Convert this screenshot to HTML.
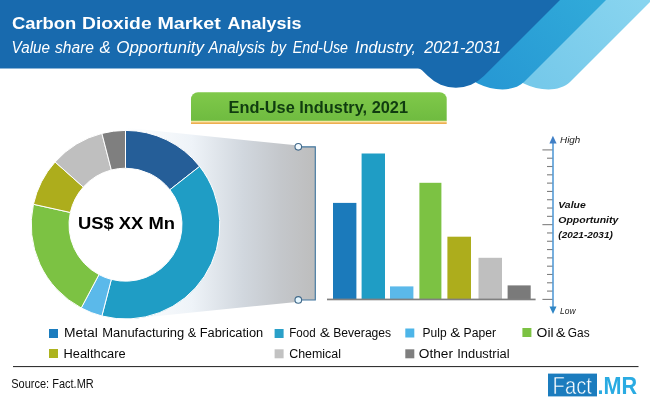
<!DOCTYPE html>
<html><head><meta charset="utf-8"><title>Carbon Dioxide Market Analysis</title>
<style>
html,body{margin:0;padding:0;background:#fff;}
body{width:650px;height:402px;overflow:hidden;position:relative;font-family:"Liberation Sans",sans-serif;}
svg{position:absolute;left:0;top:0;display:block;}
text{font-family:"Liberation Sans",sans-serif;}
</style></head><body>
<svg width="650" height="402" viewBox="0 0 650 402">
<defs>
<linearGradient id="fun" x1="0" y1="0" x2="1" y2="0">
<stop offset="0" stop-color="#ffffff"/><stop offset="0.35" stop-color="#eef3f8"/><stop offset="0.62" stop-color="#d1d7de"/><stop offset="0.82" stop-color="#c4c7cb"/><stop offset="1" stop-color="#bdbdbd"/>
</linearGradient>
<linearGradient id="grn" x1="0" y1="0" x2="0" y2="1">
<stop offset="0" stop-color="#80c94a"/><stop offset="1" stop-color="#6fbb40"/>
</linearGradient>
<linearGradient id="med" gradientUnits="userSpaceOnUse" x1="590" y1="0" x2="500" y2="90">
<stop offset="0" stop-color="#30a9d9"/><stop offset="1" stop-color="#2799d4"/>
</linearGradient>
<linearGradient id="lgt" gradientUnits="userSpaceOnUse" x1="640" y1="0" x2="548" y2="90">
<stop offset="0" stop-color="#88d4ef"/><stop offset="1" stop-color="#76c9ea"/>
</linearGradient>
</defs>
<!-- header -->
<path d="M505,0 H652 L570,82 C565,87 556.5,89.4 548.5,89.4 A55,55 0 0 1 505,68.1 Z" fill="url(#lgt)"/>
<path d="M459,0 H606 L524,82 C519,87 510.5,89.4 502.5,89.4 A55,55 0 0 1 459,68.1 Z" fill="url(#med)"/>
<path d="M0,0 H560 L483.9,76.1 A39.6,39.6 0 0 1 427.9,76.1 L422,70.2 Q420.4,68.5 418,68.5 H0 Z" fill="#186aae"/>
<text y="28.7" font-size="17.4" font-weight="bold" fill="#fff"><tspan x="11.9" textLength="64.4" lengthAdjust="spacingAndGlyphs">Carbon</tspan> <tspan x="82" textLength="69.6" lengthAdjust="spacingAndGlyphs">Dioxide</tspan> <tspan x="157.4" textLength="63.4" lengthAdjust="spacingAndGlyphs">Market</tspan> <tspan x="227.5" textLength="73.9" lengthAdjust="spacingAndGlyphs">Analysis</tspan></text>
<text y="53.1" font-size="15.8" font-style="italic" fill="#fff"><tspan x="11.6" textLength="38.4" lengthAdjust="spacingAndGlyphs">Value</tspan> <tspan x="55" textLength="39.0" lengthAdjust="spacingAndGlyphs">share</tspan> <tspan x="99.4" textLength="11.2" lengthAdjust="spacingAndGlyphs">&amp;</tspan> <tspan x="116.2" textLength="87.8" lengthAdjust="spacingAndGlyphs">Opportunity</tspan> <tspan x="208.6" textLength="56.5" lengthAdjust="spacingAndGlyphs">Analysis</tspan> <tspan x="270.6" textLength="15.4" lengthAdjust="spacingAndGlyphs">by</tspan> <tspan x="292.8" textLength="55.2" lengthAdjust="spacingAndGlyphs">End-Use</tspan> <tspan x="355" textLength="61.0" lengthAdjust="spacingAndGlyphs">Industry,</tspan> <tspan x="424.2" textLength="77.0" lengthAdjust="spacingAndGlyphs">2021-2031</tspan></text>
<!-- green pill -->
<rect x="191" y="120" width="255.7" height="2.6" fill="#f6e7a4"/>
<rect x="191" y="122.4" width="255.7" height="1.5" fill="#eca63c"/>
<path d="M191,120.8 V99.3 A7,7 0 0 1 198,92.3 H439.7 A7,7 0 0 1 446.7,99.3 V120.8 Z" fill="url(#grn)"/>
<text x="228.5" y="112.6" font-size="16.6" font-weight="bold" fill="#103c10" textLength="179.5" lengthAdjust="spacingAndGlyphs">End-Use Industry, 2021</text>
<!-- funnel -->
<polygon points="125.5,127.7 296,145.3 298,146.8 315.3,146.8 315.3,300 298,300 296.5,302 125.5,319.3" fill="url(#fun)"/>
<path d="M298,146.8 H315.3 V300 H298" fill="none" stroke="#42779f" stroke-width="1.15"/>
<!-- donut -->
<circle cx="125.5" cy="224.7" r="57.5" fill="#fff"/>
<path d="M125.50,130.40 A94.3,94.3 0 0 1 199.61,166.38 L169.90,189.76 A56.5,56.5 0 0 0 125.50,168.20 Z" fill="#255e98" stroke="#fff" stroke-width="1" stroke-linejoin="round"/>
<path d="M199.61,166.38 A94.3,94.3 0 0 1 101.89,316.00 L111.35,279.40 A56.5,56.5 0 0 0 169.90,189.76 Z" fill="#1f9dc5" stroke="#fff" stroke-width="1" stroke-linejoin="round"/>
<path d="M101.89,316.00 A94.3,94.3 0 0 1 81.23,307.96 L98.97,274.59 A56.5,56.5 0 0 0 111.35,279.40 Z" fill="#5bb9ea" stroke="#fff" stroke-width="1" stroke-linejoin="round"/>
<path d="M81.23,307.96 A94.3,94.3 0 0 1 33.44,204.29 L70.34,212.47 A56.5,56.5 0 0 0 98.97,274.59 Z" fill="#7cc243" stroke="#fff" stroke-width="1" stroke-linejoin="round"/>
<path d="M33.44,204.29 A94.3,94.3 0 0 1 55.09,161.97 L83.31,187.11 A56.5,56.5 0 0 0 70.34,212.47 Z" fill="#adad1c" stroke="#fff" stroke-width="1" stroke-linejoin="round"/>
<path d="M55.09,161.97 A94.3,94.3 0 0 1 101.89,133.40 L111.35,170.00 A56.5,56.5 0 0 0 83.31,187.11 Z" fill="#bfbfbf" stroke="#fff" stroke-width="1" stroke-linejoin="round"/>
<path d="M101.89,133.40 A94.3,94.3 0 0 1 125.50,130.40 L125.50,168.20 A56.5,56.5 0 0 0 111.35,170.00 Z" fill="#7f7f7f" stroke="#fff" stroke-width="1" stroke-linejoin="round"/>
<circle cx="298.3" cy="146.8" r="3.3" fill="#f4fbff" stroke="#41698a" stroke-width="1.1"/>
<circle cx="298.3" cy="299.9" r="3.3" fill="#e6f7ff" stroke="#41698a" stroke-width="1.1"/>
<text x="78" y="229.4" font-size="17.3" font-weight="bold" fill="#000" textLength="97" lengthAdjust="spacingAndGlyphs">US$ XX Mn</text>
<!-- bars -->
<rect x="333" y="202.9" width="23.4" height="96.5" fill="#1b7abb"/>
<rect x="361.6" y="153.5" width="23.4" height="145.9" fill="#1f9dc5"/>
<rect x="390" y="286.4" width="23.4" height="13.0" fill="#5bb9ea"/>
<rect x="419.4" y="182.8" width="22.0" height="116.6" fill="#7cc243"/>
<rect x="447.4" y="236.7" width="23.6" height="62.7" fill="#adad1c"/>
<rect x="478.5" y="257.8" width="23.5" height="41.6" fill="#bfbfbf"/>
<rect x="507.6" y="285.4" width="23.1" height="14.0" fill="#7a7a7a"/>
<rect x="327" y="298.6" width="208.6" height="1.7" fill="#808080"/>
<!-- axis -->
<g stroke="#7f7f7f" stroke-width="1.1">
<line x1="542.4" y1="149.90" x2="553" y2="149.90"/>
<line x1="547" y1="158.21" x2="553" y2="158.21"/>
<line x1="547" y1="166.51" x2="553" y2="166.51"/>
<line x1="547" y1="174.82" x2="553" y2="174.82"/>
<line x1="547" y1="183.12" x2="553" y2="183.12"/>
<line x1="547" y1="191.43" x2="553" y2="191.43"/>
<line x1="547" y1="199.73" x2="553" y2="199.73"/>
<line x1="547" y1="208.04" x2="553" y2="208.04"/>
<line x1="547" y1="216.34" x2="553" y2="216.34"/>
<line x1="542.4" y1="224.65" x2="553" y2="224.65"/>
<line x1="547" y1="232.96" x2="553" y2="232.96"/>
<line x1="547" y1="241.26" x2="553" y2="241.26"/>
<line x1="547" y1="249.57" x2="553" y2="249.57"/>
<line x1="547" y1="257.87" x2="553" y2="257.87"/>
<line x1="547" y1="266.18" x2="553" y2="266.18"/>
<line x1="547" y1="274.48" x2="553" y2="274.48"/>
<line x1="547" y1="282.79" x2="553" y2="282.79"/>
<line x1="547" y1="291.09" x2="553" y2="291.09"/>
<line x1="542.4" y1="299.40" x2="553" y2="299.40"/>
</g>
<line x1="553" y1="142" x2="553" y2="308" stroke="#559bd6" stroke-width="1.6"/>
<polygon points="552.9,135.8 549.4,143.4 556.6,143.4" fill="#3f7fc6"/>
<polygon points="553,314 549.5,306.5 556.5,306.5" fill="#2f86c6"/>
<text x="560" y="143.3" font-size="9.3" font-style="italic" fill="#222" textLength="20.3" lengthAdjust="spacingAndGlyphs">High</text>
<text x="560" y="314.3" font-size="9.3" font-style="italic" fill="#222" textLength="15.5" lengthAdjust="spacingAndGlyphs">Low</text>
<g font-size="9.6" font-style="italic" font-weight="bold" fill="#111">
<text x="558.3" y="208.3" textLength="27.4" lengthAdjust="spacingAndGlyphs">Value</text>
<text x="558.3" y="223" textLength="60" lengthAdjust="spacingAndGlyphs">Opportunity</text>
<text x="558.3" y="237.9" textLength="54.5" lengthAdjust="spacingAndGlyphs">(2021-2031)</text>
</g>
<!-- legend -->
<rect x="49" y="329" width="9" height="9" fill="#1b7cbe"/>
<rect x="274.6" y="329" width="9" height="9" fill="#2aa0c8"/>
<rect x="405.3" y="328.5" width="9" height="9" fill="#4db5e8"/>
<rect x="522.4" y="328" width="9" height="9" fill="#7cc243"/>
<rect x="49" y="349" width="9" height="9" fill="#adb31e"/>
<rect x="274.6" y="349.3" width="9" height="9" fill="#c2c2c2"/>
<rect x="405.3" y="349.3" width="9" height="9" fill="#7f7f7f"/>
<g font-size="12" fill="#0a0a0a">
<text y="336.9"><tspan x="64.0" textLength="33.8" lengthAdjust="spacingAndGlyphs">Metal</tspan> <tspan x="102.2" textLength="82.1" lengthAdjust="spacingAndGlyphs">Manufacturing</tspan> <tspan x="187.8" textLength="8.5" lengthAdjust="spacingAndGlyphs">&amp;</tspan> <tspan x="199.7" textLength="63.5" lengthAdjust="spacingAndGlyphs">Fabrication</tspan></text>
<text y="336.9"><tspan x="289.2" textLength="26.4" lengthAdjust="spacingAndGlyphs">Food</tspan> <tspan x="319.8" textLength="10.2" lengthAdjust="spacingAndGlyphs">&amp;</tspan> <tspan x="333.2" textLength="58.0" lengthAdjust="spacingAndGlyphs">Beverages</tspan></text>
<text y="336.9"><tspan x="422.6" textLength="24.0" lengthAdjust="spacingAndGlyphs">Pulp</tspan> <tspan x="450.2" textLength="10.0" lengthAdjust="spacingAndGlyphs">&amp;</tspan> <tspan x="463.6" textLength="32.4" lengthAdjust="spacingAndGlyphs">Paper</tspan></text>
<text y="336.9"><tspan x="536.6" textLength="17.0" lengthAdjust="spacingAndGlyphs">Oil</tspan> <tspan x="555.8" textLength="9.8" lengthAdjust="spacingAndGlyphs">&amp;</tspan> <tspan x="567.8" textLength="21.8" lengthAdjust="spacingAndGlyphs">Gas</tspan></text>
<text y="357.8"><tspan x="63.6" textLength="62.0" lengthAdjust="spacingAndGlyphs">Healthcare</tspan></text>
<text y="357.8"><tspan x="289.2" textLength="51.8" lengthAdjust="spacingAndGlyphs">Chemical</tspan></text>
<text y="357.8"><tspan x="418.8" textLength="34.2" lengthAdjust="spacingAndGlyphs">Other</tspan> <tspan x="457.2" textLength="52.4" lengthAdjust="spacingAndGlyphs">Industrial</tspan></text>
</g>
<rect x="13" y="366" width="625.5" height="1.1" fill="#333"/>
<text x="11.2" y="387.7" font-size="11.9" fill="#111" textLength="82.6" lengthAdjust="spacingAndGlyphs">Source: Fact.MR</text>
<!-- logo -->
<rect x="548" y="373.6" width="49" height="22.8" fill="#1b7cbe"/>
<text x="552.6" y="393.5" font-size="24" fill="#fff" stroke="#1b7cbe" stroke-width="0.5" textLength="39.4" lengthAdjust="spacingAndGlyphs">Fact</text>
<text x="597.6" y="393.5" font-size="23" font-weight="bold" fill="#2aabe2" textLength="39.6" lengthAdjust="spacingAndGlyphs">.MR</text>
</svg>
</body></html>
